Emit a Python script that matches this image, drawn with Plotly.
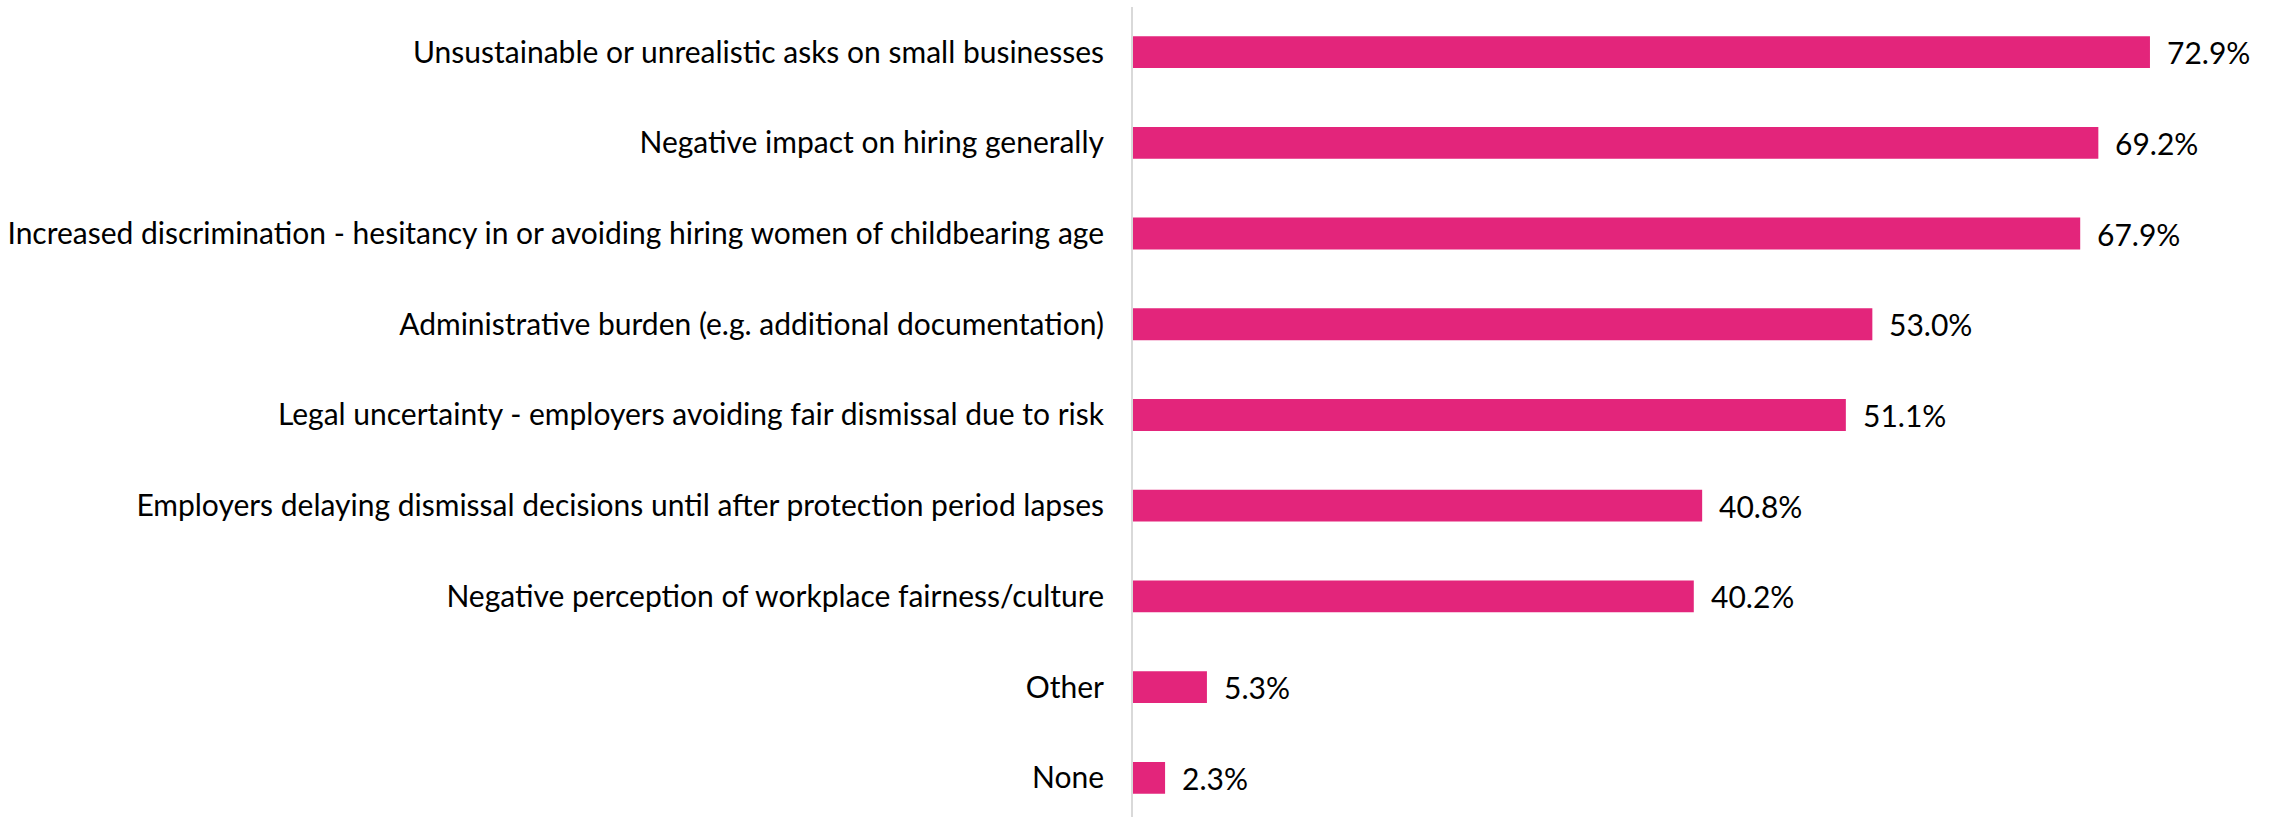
import plotly.graph_objects as go

categories = [
    "Unsustainable or unrealistic asks on small businesses",
    "Negative impact on hiring generally",
    "Increased discrimination - hesitancy in or avoiding hiring women of childbearing age",
    "Administrative burden (e.g. additional documentation)",
    "Legal uncertainty - employers avoiding fair dismissal due to risk",
    "Employers delaying dismissal decisions until after protection period lapses",
    "Negative perception of workplace fairness/culture",
    "Other",
    "None",
]
values = [72.9, 69.2, 67.9, 53.0, 51.1, 40.8, 40.2, 5.3, 2.3]
value_labels = [f"{v:.1f}%" for v in values]

BAR_COLOR = "#E3257B"
FONT = "Lato"

fig = go.Figure(
    go.Bar(
        x=values,
        y=categories,
        orientation="h",
        marker=dict(color=BAR_COLOR, line=dict(width=0)),
        width=0.35,
        hoverinfo="skip",
    )
)

# value labels just past the end of each bar
for cat, v, lab in zip(categories, values, value_labels):
    fig.add_annotation(
        x=v, y=cat, text=lab, showarrow=False,
        xanchor="left", yanchor="middle", xshift=15,
        font=dict(family=FONT, size=30, color="#000000"),
    )

fig.update_layout(
    width=2269,
    height=817,
    margin=dict(l=1133, r=20, t=7, b=0),
    paper_bgcolor="white",
    plot_bgcolor="white",
    showlegend=False,
    font=dict(family=FONT, size=30, color="#000000"),
)
fig.update_xaxes(
    range=[0, 80], visible=False, showgrid=False, zeroline=False,
)
fig.update_yaxes(
    categoryorder="array",
    categoryarray=categories,
    range=[8.43, -0.496],
    showgrid=False,
    zeroline=False,
    showline=True,
    linecolor="#D9D9D9",
    linewidth=2,
    ticks="",
    ticklabelstandoff=21,
    tickfont=dict(family=FONT, size=30, color="#000000"),
    automargin=False,
)

fig.write_html("out.html")
